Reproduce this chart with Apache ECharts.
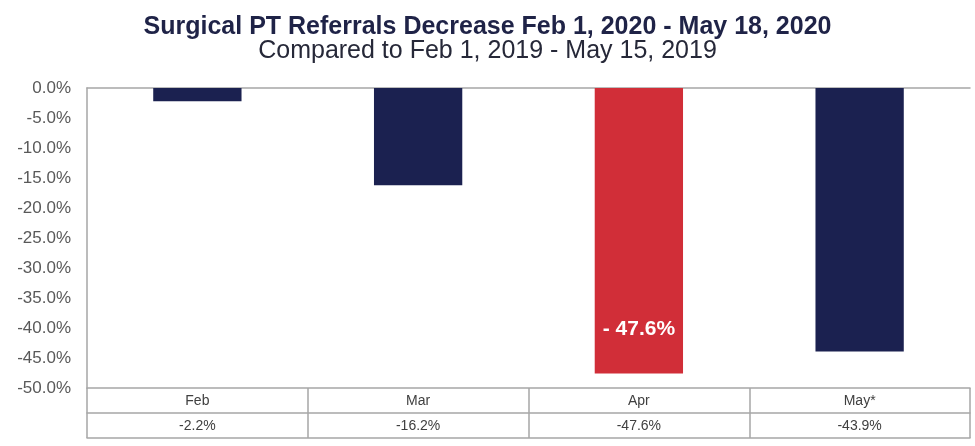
<!DOCTYPE html>
<html>
<head>
<meta charset="utf-8">
<script src="https://cdn.jsdelivr.net/npm/echarts@6/dist/echarts.min.js"></script>
<style>
html,body{margin:0;padding:0;background:#fff;}
#chart{width:975px;height:446px;}
</style>
</head>
<body>
<div id="chart"></div>
<script>
const categories = ['Feb', 'Mar', 'Apr', 'May*'];
const values = [-2.2, -16.2, -47.6, -43.9];
const valueLabels = ['-2.2%', '-16.2%', '-47.6%', '-43.9%'];
const highlightIndex = 2;
const yTicks = { min: -50, max: 0, interval: 5 };

const NAVY = '#1b2150';
const RED = '#d12e38';
const GRID = '#a6a6a6';
const FONT = '"Liberation Sans", Arial, sans-serif';

const chart = echarts.init(document.getElementById('chart'));
chart.setOption({
  backgroundColor: '#fff',
  animation: false,
  title: [
    {
      text: 'Surgical PT Referrals Decrease Feb 1, 2020 - May 18, 2020',
      left: 'center', top: 10,
      textStyle: { fontFamily: FONT, fontSize: 25, fontWeight: 'bold', color: '#1f2347' }
    },
    {
      text: 'Compared to Feb 1, 2019 - May 15, 2019',
      left: 'center', top: 34,
      textStyle: { fontFamily: FONT, fontSize: 25, fontWeight: 'normal', color: '#262838' }
    }
  ],
  grid: { left: 87, right: 5, top: 88, bottom: 58 },
  xAxis: [
    {
      type: 'category', data: categories, position: 'bottom',
      axisLine: { show: true, onZero: false, lineStyle: { color: GRID, width: 1.5 } },
      axisTick: { show: true, length: 50, lineStyle: { color: GRID, width: 1.5 } },
      axisLabel: { margin: 6, fontFamily: FONT, fontSize: 14, color: '#404040' }
    },
    {
      type: 'category', data: valueLabels, position: 'bottom', offset: 25,
      axisLine: { show: true, onZero: false, lineStyle: { color: GRID, width: 1.5 } },
      axisTick: { show: false },
      axisLabel: { margin: 6, fontFamily: FONT, fontSize: 14, color: '#404040' }
    },
    {
      type: 'category', data: categories, position: 'bottom', offset: 50,
      axisLine: { show: true, onZero: false, lineStyle: { color: GRID, width: 1.5 } },
      axisTick: { show: false }, axisLabel: { show: false }
    },
    {
      type: 'category', data: categories, position: 'top',
      axisLine: { show: true, onZero: false, lineStyle: { color: GRID, width: 1.5 } },
      axisTick: { show: false }, axisLabel: { show: false }
    }
  ],
  yAxis: {
    type: 'value', min: yTicks.min, max: yTicks.max, interval: yTicks.interval,
    axisLine: { show: true, lineStyle: { color: GRID, width: 1.5 } },
    axisTick: { show: false },
    splitLine: { show: false },
    axisLabel: {
      margin: 16, fontFamily: FONT, fontSize: 17, color: '#595959',
      formatter: v => v.toFixed(1) + '%'
    }
  },
  series: [{
    type: 'bar',
    xAxisIndex: 0,
    barWidth: '40%',
    data: values.map((v, i) => ({
      value: v,
      itemStyle: { color: i === highlightIndex ? RED : NAVY },
      label: i === highlightIndex ? {
        show: true, position: 'insideBottom', distance: 34,
        formatter: p => '- ' + Math.abs(p.value).toFixed(1) + '%',
        fontFamily: FONT, fontSize: 21, fontWeight: 'bold', color: '#fff'
      } : { show: false }
    }))
  }]
});
</script>
</body>
</html>
